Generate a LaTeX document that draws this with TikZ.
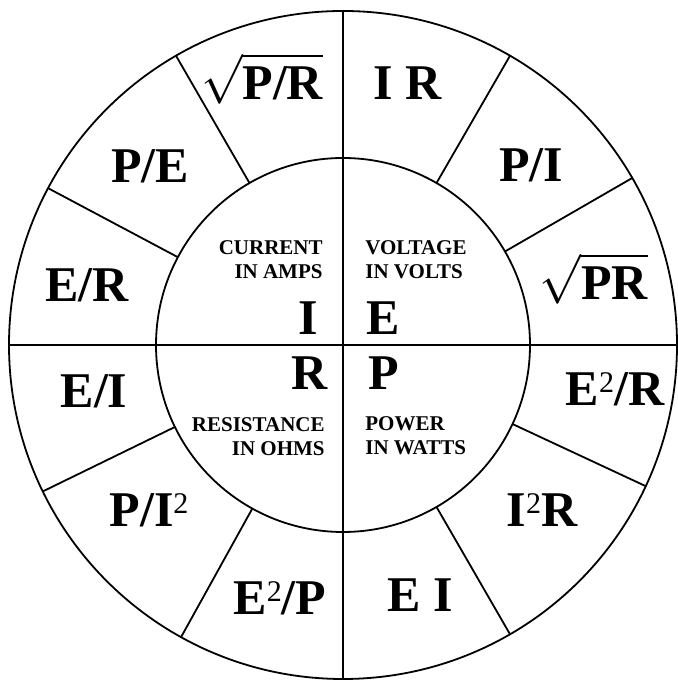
\documentclass[tikz,border=0pt]{standalone}
\usepackage{fontspec}
\setmainfont{Liberation Serif}
\newcommand{\supII}{\raisebox{6.5pt}{\fontsize{15}{15}\selectfont\mdseries 2}}
\newcommand{\sqrtlabel}[1]{$\sqrt{\hbox{#1}\rule{0pt}{19pt}}$}

\begin{document}
\begin{tikzpicture}[x=0.5pt,y=0.5pt]
  \tikzset{rim/.style={line width=0.9pt},
           big/.style={font=\fontsize{25}{30}\selectfont\bfseries, inner sep=0pt, anchor=base},
           small/.style={font=\fontsize{10.5}{12}\selectfont\bfseries, inner sep=0pt}}

  \def\Ro{334}
  \def\Ri{187}

  \useasboundingbox (0,0) rectangle (677,683);
  \coordinate (o) at (343,338);

  % wheel
  \draw[rim] (o) circle (\Ro);
  \draw[rim] (o) circle (\Ri);
  \foreach \a in {0,90}
    \draw[rim] ([shift={(\a:\Ro)}]o) -- ([shift={(\a+180:\Ro)}]o);
  \foreach \a in {30,60,120,152,206,241,300,335}
    \draw[rim] ([shift={(\a:\Ri)}]o) -- ([shift={(\a:\Ro)}]o);

  % centre
  \node[big] (cur) at (308,348) {I};
  \node[big] (vol) at (383,348) {E};
  \node[big] (res) at (310,293) {R};
  \node[big] (pow) at (384,293) {P};
  \node[small, anchor=north east, align=right] (curtxt) at (323,443) {CURRENT\\IN AMPS};
  \node[small, anchor=north west, align=left] (voltxt) at (365,443) {VOLTAGE\\IN VOLTS};
  \node[small, anchor=north east, align=right] (restxt) at (325,266) {RESISTANCE\\IN OHMS};
  \node[small, anchor=north west, align=left] (powtxt) at (365,267) {POWER\\IN WATTS};

  % current
  \node[big] (isqrt) at (262,583) {\sqrtlabel{P/R}};
  \node[big] (ipe) at (150,500) {P/E};
  \node[big] (ier) at (87,381) {E/R};
  % resistance
  \node[big] (rei) at (94,275) {E/I};
  \node[big] (rpi) at (149,156) {P/I\supII};
  \node[big] (rep) at (280,68) {E\supII/P};
  % power
  \node[big] (pei) at (420,71) {E I};
  \node[big] (pir) at (542,156) {I\supII R};
  \node[big] (per) at (615,277) {E\supII/R};
  % voltage
  \node[big] (esqrt) at (594,383) {\sqrtlabel{PR}};
  \node[big] (epi) at (531,501) {P/I};
  \node[big] (eir) at (408,583) {I R};
\end{tikzpicture}
\end{document}
